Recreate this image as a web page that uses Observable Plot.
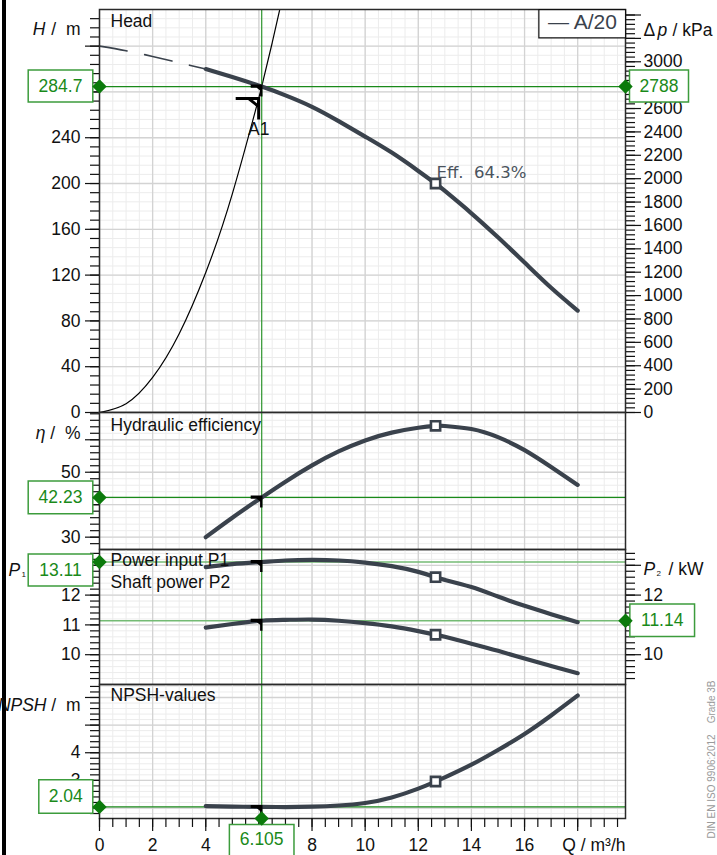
<!DOCTYPE html>
<html>
<head>
<meta charset="utf-8">
<script src="https://cdn.jsdelivr.net/npm/d3@7"></script>
<script src="https://cdn.jsdelivr.net/npm/@observablehq/plot@0.6"></script>
<style>
html, body { margin: 0; padding: 0; background: #fff; }
#chart { position: relative; width: 717px; height: 855px; overflow: hidden; font-family: "Liberation Sans", Arial, sans-serif; }
#chart svg { position: absolute; left: 0; top: 0; }
#edge { position: absolute; left: 2px; top: 0; width: 4px; height: 855px; background: #000; }
</style>
</head>
<body>
<div id="chart"><div id="edge"></div></div>
<script>
// ---------------- data ----------------
const flowQ    = [4, 5, 6.105, 7, 8, 9, 10, 11, 12, 12.65, 13, 14, 15, 16, 17, 18];
const headH    = [300, 293, 284.7, 277, 267, 254.5, 241, 227, 211, 200, 193.5, 174, 153, 131, 109, 89];
const effPct   = [30, 36, 42.23, 47.1, 52.1, 56.4, 59.8, 62.2, 63.7, 64.3, 64.25, 63.3, 60.8, 56.8, 51.6, 46.1];
const powerP1  = [12.94, 13.04, 13.11, 13.16, 13.18, 13.16, 13.09, 12.97, 12.78, 12.60, 12.51, 12.27, 11.95, 11.64, 11.36, 11.09];
const powerP2  = [10.91, 11.03, 11.14, 11.17, 11.18, 11.14, 11.06, 10.95, 10.79, 10.67, 10.60, 10.37, 10.13, 9.87, 9.62, 9.38];
const npshM    = [2.07, 2.05, 2.04, 2.035, 2.05, 2.09, 2.18, 2.38, 2.70, 2.96, 3.11, 3.57, 4.10, 4.68, 5.35, 6.07];
const headDashQ = [0, 1, 2, 3, 4];
const headDashH = [320, 316, 311, 305.5, 300];
const systemQ  = [0, 1, 2, 3, 4, 5, 6, 6.105, 6.5, 7];
const systemH  = [0, 7.6, 30.6, 68.8, 122.3, 191, 275, 284.7, 322.8, 374];

const bepQ = 12.65, bepEffLabel = "64.3";
const opQ = 6.105, opH = 284.7, opDp = 2788, opEta = 42.23, opP1 = 13.11, opP2 = 11.14, opNpsh = 2.04;
const pumpName = "A/20";
const opName = "A1";

// tick labels (labels hidden behind the value boxes in the reference are left out)
const xTickLabels    = [0, 2, 4, 8, 10, 12, 14, 16];
const xMajor         = [0, 2, 4, 6, 8, 10, 12, 14, 16, 18];
const headTickLabels = [0, 40, 80, 120, 160, 200, 240];
const headMajor      = [0, 40, 80, 120, 160, 200, 240, 280, 320];
const dpTickLabels   = [0, 200, 400, 600, 800, 1000, 1200, 1400, 1600, 1800, 2000, 2200, 2400, 2600, 3000];
const dpMajor        = [0, 200, 400, 600, 800, 1000, 1200, 1400, 1600, 1800, 2000, 2200, 2400, 2600, 2800, 3000, 3200, 3400];
const effTickLabels  = [30, 50];
const effMajor       = [30, 40, 50, 60];
const pLeftLabels    = [10, 11, 12];
const pRightLabels   = [10, 12];
const pMajor         = [10, 11, 12, 13];
const npshLabels     = [3, 4];
const npshMajor      = [2, 3, 4, 5, 6];

// minor tick steps
const xMinor    = d3.range(0, 19.8, 0.5);
const headMinor = d3.range(0, 352, 8);
const dpMinor   = d3.range(0, 3440, 40);
const effMinor  = d3.range(28, 68.4, 2);
const pMinor    = d3.range(9.2, 13.5, 0.2);
const npshMinor = d3.range(1.8, 6.45, 0.2);

// ---------------- styling ----------------
const FONT = "'Liberation Sans', Arial, sans-serif";
const curveColor = "#3a424c";
const green = "#1a8a1a";
const greenLight = "#74bb74";
const boxStroke = "#3c9c3c";
const diamondFill = "#0b7a0b";
const majorGrid = "#d3d3d3", minorGrid = "#ececec";
const W = 717, H = 855;
const xDomain = [0, 19.8];

const rows = (ys) => flowQ.map((q, i) => ({q, v: ys[i]}));
const bepIndex = flowQ.indexOf(bepQ);

const opMarker = {draw(ctx) {
  ctx.moveTo(-11, -2); ctx.lineTo(0.8, -2); ctx.lineTo(0.8, 10); ctx.lineTo(-1.6, 10);
  ctx.lineTo(-1.6, 4); ctx.lineTo(-5, 1.2); ctx.lineTo(-11, 1.2); ctx.closePath();
}};
const a1Marker = {draw(ctx) {
  ctx.moveTo(-23, 0); ctx.lineTo(0, 0); ctx.lineTo(0, 21);
  ctx.moveTo(-10, 0); ctx.lineTo(0, 8);
}};
const box = (w, h) => ({draw(ctx) { ctx.rect(-w / 2, -h / 2, w, h); }});

function base(top, bottom, y, extra = {}) {
  return {
    width: W, height: H, marginLeft: 99, marginRight: 92, marginTop: top, marginBottom: H - bottom,
    x: {domain: xDomain, label: null, ...(extra.xAxis ? {} : {axis: null})},
    y: {domain: y, label: null},
    style: {background: "transparent", fontFamily: FONT, fontSize: "17.5px", overflow: "visible", color: "#111"}
  };
}

function grids(yMinor, yMajor) {
  return [
    Plot.gridX(xMinor, {stroke: minorGrid, strokeOpacity: 1, strokeWidth: 1}),
    Plot.gridY(yMinor, {stroke: minorGrid, strokeOpacity: 1, strokeWidth: 1}),
    Plot.gridX(xMajor, {stroke: majorGrid, strokeOpacity: 1, strokeWidth: 1.3}),
    Plot.gridY(yMajor, {stroke: majorGrid, strokeOpacity: 1, strokeWidth: 1.3})
  ];
}

function axesY(anchor, minor, major, labels) {
  const pad = anchor === "left" ? 5 : 3;
  const big = anchor === "left" ? 14 : 15;
  return [
    Plot.axisY(minor, {anchor, tickSize: 9, tickFormat: () => "", label: null, strokeWidth: 1.2}),
    Plot.axisY(major, {anchor, tickSize: big, tickPadding: pad, label: null, strokeWidth: 1.2,
      tickFormat: d => labels.includes(d) ? String(d) : ""})
  ];
}

function valueBox(value, side, {w = 64.6, h = 32, dx = -39, dy = 0} = {}) {
  const frameAnchor = side;
  return [
    Plot.dot([value], {y: d => d, frameAnchor, dx, dy, symbol: box(w, h), r: 5, fill: "#fff", stroke: boxStroke, strokeWidth: 1.5}),
    Plot.text([value], {y: d => d, frameAnchor, dx, dy, text: d => String(d), textAnchor: "middle", fill: green, fontSize: 17.5}),
    Plot.dot([value], {y: d => d, frameAnchor, symbol: "diamond2", r: 6.5, fill: diamondFill, stroke: "none"})
  ];
}

function curve(ys, width = 4.2) {
  return Plot.line(rows(ys), {x: "q", y: "v", stroke: curveColor, strokeWidth: width, curve: "natural", strokeLinecap: "round"});
}
function bep(ys) {
  return Plot.dot([{q: bepQ, v: ys[bepIndex]}], {x: "q", y: "v", symbol: "square", r: 5.2, fill: "#fff", stroke: curveColor, strokeWidth: 2.6});
}
function opDot(value) {
  return Plot.dot([{q: opQ, v: value}], {x: "q", y: "v", symbol: opMarker, r: 5, fill: "#000", stroke: "none"});
}
function leftLabel(main, unit, dy, italicDx = -54) {
  return [
    Plot.text([main], {frameAnchor: "top-left", dx: italicDx, dy, textAnchor: "end", lineAnchor: "middle", fontStyle: "italic", fill: "#111"}),
    Plot.text([unit], {frameAnchor: "top-left", dx: -19, dy, textAnchor: "end", lineAnchor: "middle", fill: "#111"})
  ];
}
function panelTitle(t, dy) {
  return Plot.text([t], {frameAnchor: "top-left", dx: 11, dy, textAnchor: "start", lineAnchor: "middle", fill: "#111"});
}
const frame = Plot.frame({stroke: "#2a2a2a", strokeWidth: 1.5});

const chart = document.getElementById("chart");

// ---------------- Head panel ----------------
const headPlot = Plot.plot({
  ...base(9, 412, [0, 352]),
  marks: [
    ...grids(headMinor, headMajor),
    Plot.line(systemQ.map((q, i) => ({q, v: systemH[i]})), {x: "q", y: "v", stroke: "#000", strokeWidth: 1.2, curve: "natural", clip: true}),
    Plot.line(headDashQ.map((q, i) => ({q, v: headDashH[i]})), {x: "q", y: "v", stroke: curveColor, strokeWidth: 1.6, strokeDasharray: "28 18", curve: "natural"}),
    Plot.ruleY([opH], {stroke: green, strokeWidth: 1.3}),
    Plot.ruleX([opQ], {stroke: "#3c9c3c", strokeWidth: 1.3}),
    curve(headH),
    bep(headH),
    opDot(opH),
    Plot.dot([{q: opQ, v: opH}], {x: "q", y: "v", symbol: a1Marker, r: 5, dx: -3, dy: 12, fill: "none", stroke: "#000", strokeWidth: 3}),
    Plot.text([{q: opQ, v: opH}], {x: "q", y: "v", text: () => opName, dx: -3, dy: 43, textAnchor: "middle", fill: "#111", fontSize: 17.5}),
    Plot.text([{q: bepQ, v: headH[bepIndex]}], {x: "q", y: "v", text: () => `Eff.\u00a0\u00a0${bepEffLabel}%`, dx: 1, dy: -11, textAnchor: "start", fill: "#4a535d", fontSize: 16.5, fontFamily: "'DejaVu Sans', sans-serif"}),
    panelTitle("Head", 12),
    ...leftLabel("H", "/\u00a0\u00a0m", 20),
    frame,
    ...axesY("left", headMinor, headMajor, headTickLabels),
    ...valueBox(opH, "left", {dy: -0.5})
  ]
});
chart.appendChild(headPlot);

// ---------------- Δp overlay (right axis of head panel) ----------------
const dpTop = 352 * opDp / opH;
const dpPlot = Plot.plot({
  ...base(9, 412, [0, dpTop]),
  marks: [
    ...axesY("right", dpMinor, dpMajor, dpTickLabels),
    Plot.text(["\u0394"], {frameAnchor: "top-right", dx: 18, dy: 21, textAnchor: "start", lineAnchor: "middle", fill: "#111"}),
    Plot.text(["p"], {frameAnchor: "top-right", dx: 32, dy: 21, textAnchor: "start", lineAnchor: "middle", fontStyle: "italic", fill: "#111"}),
    Plot.text(["/ kPa"], {frameAnchor: "top-right", dx: 47, dy: 21, textAnchor: "start", lineAnchor: "middle", fill: "#111"}),
    Plot.dot([pumpName], {frameAnchor: "top-right", dx: -43.3, dy: 14.2, symbol: box(86.7, 28.3), r: 5, fill: "#fff", stroke: "#111", strokeWidth: 1.2}),
    Plot.text([pumpName], {frameAnchor: "top-right", dx: -43, dy: 13, text: d => "\u2014 " + d, textAnchor: "middle", lineAnchor: "middle", fill: curveColor, fontSize: 21}),
    ...valueBox(opDp, "right", {w: 59, h: 32, dx: 33.5, dy: -0.5})
  ]
});
chart.appendChild(dpPlot);

// ---------------- Efficiency panel ----------------
const effPlot = Plot.plot({
  ...base(412, 549, [26.2, 68.4]),
  marks: [
    ...grids(effMinor, effMajor),
    Plot.ruleY([opEta], {stroke: green, strokeWidth: 1.3}),
    Plot.ruleX([opQ], {stroke: "#3c9c3c", strokeWidth: 1.3}),
    curve(effPct),
    bep(effPct),
    opDot(opEta),
    panelTitle("Hydraulic efficiency", 13),
    ...leftLabel("\u03b7", "/\u00a0\u00a0%", 21),
    frame,
    ...axesY("left", effMinor, effMajor, effTickLabels),
    ...valueBox(opEta, "left", {h: 32.7})
  ]
});
chart.appendChild(effPlot);

// ---------------- Power panel ----------------
const powerPlot = Plot.plot({
  ...base(549, 684, [9.0, 13.53]),
  marks: [
    ...grids(pMinor, pMajor),
    Plot.ruleY([opP1, opP2], {stroke: greenLight, strokeWidth: 1.5}),
    Plot.ruleX([opQ], {stroke: "#3c9c3c", strokeWidth: 1.3}),
    curve(powerP1),
    curve(powerP2),
    bep(powerP1),
    bep(powerP2),
    opDot(opP1),
    opDot(opP2),
    panelTitle("Power input P1", 11),
    panelTitle("Shaft power P2", 33),
    Plot.text(["P"], {frameAnchor: "top-left", dx: -91, dy: 21, textAnchor: "start", lineAnchor: "middle", fontStyle: "italic", fill: "#111"}),
    Plot.text(["1"], {frameAnchor: "top-left", dx: -78, dy: 25, textAnchor: "start", lineAnchor: "middle", fontSize: 8, fill: "#111"}),
    Plot.text(["P"], {frameAnchor: "top-right", dx: 18, dy: 20, textAnchor: "start", lineAnchor: "middle", fontStyle: "italic", fill: "#111"}),
    Plot.text(["2"], {frameAnchor: "top-right", dx: 31, dy: 24, textAnchor: "start", lineAnchor: "middle", fontSize: 8, fill: "#111"}),
    Plot.text(["/ kW"], {frameAnchor: "top-right", dx: 43, dy: 20, textAnchor: "start", lineAnchor: "middle", fill: "#111"}),
    frame,
    ...axesY("left", pMinor, pMajor, pLeftLabels),
    ...axesY("right", pMinor, pMajor, pRightLabels),
    ...valueBox(opP1, "left", {dy: 8}),
    ...valueBox(opP2, "right", {w: 64.7, h: 32.7, dx: 36.7, dy: -0.5})
  ]
});
chart.appendChild(powerPlot);

// ---------------- NPSH panel ----------------
const npshPlot = Plot.plot({
  ...base(684, 818, [1.62, 6.47], {xAxis: true}),
  marks: [
    ...grids(npshMinor, npshMajor),
    Plot.ruleY([opNpsh], {stroke: green, strokeWidth: 1.3}),
    Plot.ruleX([opQ], {stroke: "#3c9c3c", strokeWidth: 1.3}),
    curve(npshM),
    bep(npshM),
    opDot(opNpsh),
    panelTitle("NPSH-values", 11),
    ...leftLabel("NPSH", "/\u00a0\u00a0m", 21, -53),
    frame,
    ...axesY("left", npshMinor, npshMajor, npshLabels),
    Plot.axisX(xMinor, {anchor: "bottom", tickSize: 9, tickFormat: () => "", label: null, strokeWidth: 1.2}),
    Plot.axisX(xMajor, {anchor: "bottom", tickSize: 13, tickPadding: 7, label: null, strokeWidth: 1.2,
      tickFormat: d => xTickLabels.includes(d) ? String(d) : ""}),
    Plot.text(["Q / m\u00b3/h"], {frameAnchor: "bottom-right", dx: 0, dy: 27, textAnchor: "end", lineAnchor: "middle", fill: "#111"}),
    Plot.text(["DIN EN ISO 9906:2012\u00a0\u00a0\u00a0\u00a0Grade 3B"], {frameAnchor: "bottom-right", dx: 86, dy: -138, rotate: -90, textAnchor: "end", lineAnchor: "middle", fontSize: 10, fill: "#9a9a9a"}),
    ...valueBox(opNpsh, "left", {w: 54, h: 33.4, dx: -33.7, dy: -10.4}),
    Plot.dot([opQ], {x: d => d, frameAnchor: "bottom", dy: 22, symbol: box(64.6, 32), r: 5, fill: "#fff", stroke: boxStroke, strokeWidth: 1.5}),
    Plot.text([opQ], {x: d => d, frameAnchor: "bottom", dy: 21, text: d => String(d), textAnchor: "middle", lineAnchor: "middle", fill: green, fontSize: 17.5}),
    Plot.dot([opQ], {x: d => d, frameAnchor: "bottom", symbol: "diamond2", r: 6.5, fill: diamondFill, stroke: "none"})
  ]
});
chart.appendChild(npshPlot);
</script>
</body>
</html>
